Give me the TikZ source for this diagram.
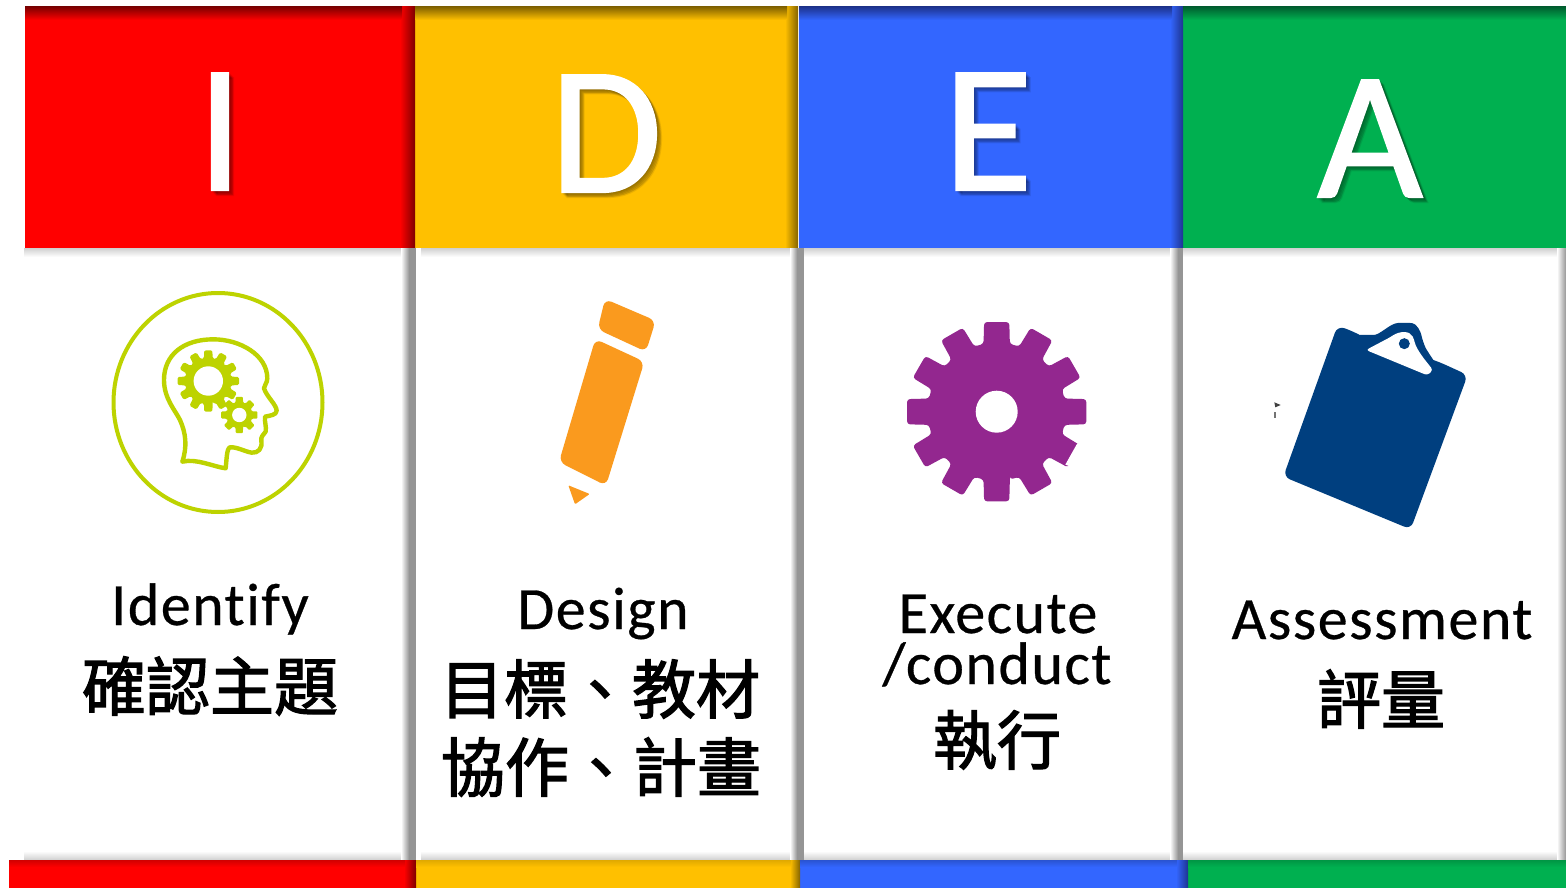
\documentclass[tikz,border=0pt]{standalone}
\usepackage{fontspec}
\setmainfont[LetterSpace=2.5,FakeBold=0.5,Ligatures=NoCommon]{Carlito}
\newfontfamily\bigf[FakeBold=1.2]{Carlito}
\newfontfamily\cjk[FakeBold=2]{Noto Sans CJK TC}
\definecolor{cred}{HTML}{FF0000}
\definecolor{cdred}{HTML}{7E0000}
\definecolor{camb}{HTML}{FFC000}
\definecolor{cdamb}{HTML}{846400}
\definecolor{cblu}{HTML}{3366FF}
\definecolor{cdblu}{HTML}{1E3490}
\definecolor{cgrn}{HTML}{00B050}
\definecolor{cdgrn}{HTML}{006030}
\definecolor{lime}{HTML}{BDD300}
\definecolor{penc}{HTML}{FA9A1E}
\definecolor{purp}{HTML}{93278F}
\definecolor{navy}{HTML}{003F7F}
\definecolor{shad}{HTML}{959595}
\definecolor{shadl}{HTML}{D0D0D0}
\tikzset{
  letter/.style={anchor=base,text=white,font=\bigf\fontsize{182}{182}\selectfont,inner sep=0pt},
  lettershadow/.style={anchor=base,text=black,text opacity=0.08,font=\bigf\fontsize{182}{182}\selectfont,inner sep=0pt},
  entext/.style={anchor=base,font=\fontsize{60}{60}\selectfont,inner sep=0pt},
  zhtext/.style={anchor=center,font=\cjk\fontsize{64}{64}\selectfont,inner sep=0pt},
  icon/.style={x=0.3333pt,y=-0.3333pt},
  hramp/.style n args={2}{left color=#1,right color=#2,middle color=#1!50!#2},
  vramp/.style n args={2}{top color=#1,bottom color=#2,middle color=#1!50!#2}
}
% gear: cx, cy, outer, root, teeth, half angle outer, half angle root, hole, colour
\newcommand{\geardraw}[9]{%
  \pgfmathsetmacro{\gstep}{360/#5}%
  \pgfmathsetmacro{\glast}{360-\gstep}%
  \pgfmathsetmacro{\gsec}{\gstep}%
  \fill[shift={(#1,#2)},#9] (90-#7:#4)
    \foreach \gi in {0,\gsec,...,\glast} {
      -- (90+\gi-#7:#4) -- (90+\gi-#6:#3) -- (90+\gi+#6:#3) -- (90+\gi+#7:#4)
    } -- cycle;
  \fill[white,shift={(#1,#2)}] (0,0) circle (#8);
}
\newcommand{\bigletter}[4]{%
  \foreach \sh in {1,2,3,4,5} {
    \node[lettershadow] (shadow#4\sh) at (#1+\sh,#2+\sh) {#3};
  }
  \node[letter] (letter#4) at (#1,#2) {#3};
}
\begin{document}
\begin{tikzpicture}[x=1pt,y=-1pt]
\useasboundingbox (0,0) rectangle (1566,888);
\fill[white] (0,0) rectangle (1566,888);
% header bars
\fill[cred] (25,7) rectangle (415,248);
\fill[camb] (415,7) rectangle (798,248);
\fill[cblu] (799,7) rectangle (1183,248);
\fill[cgrn] (1183,7) rectangle (1566,248);
% header right shadows
\shade[hramp={cred}{cdred}] (400,7) rectangle (415,248);
\shade[hramp={camb}{cdamb}] (785,7) rectangle (798,248);
\shade[hramp={cblu}{cdblu}] (1170,7) rectangle (1183,248);
% header top shadows
\shade[vramp={cdred}{cred}] (25,7) rectangle (402,20);
\shade[vramp={cdamb}{camb}] (415,7) rectangle (787,20);
\shade[vramp={cdblu}{cblu}] (799,7) rectangle (1172,20);
\shade[vramp={cdgrn}{cgrn}] (1183,7) rectangle (1566,20);
% body top shadow
\shade[top color=shadl,bottom color=white] (24,248) rectangle (1566,257);
% body bottom shadow
\shade[top color=white,bottom color=shadl] (24,851) rectangle (1566,860);
% body vertical shadows
\shade[hramp={white}{shad}] (401,248) rectangle (409,860);
\fill[shad] (409,248) rectangle (416,860);
\fill[white] (416,248) rectangle (421,860);
\shade[hramp={white}{shad}] (790,248) rectangle (797,860);
\fill[shad] (797,248) rectangle (804,860);
\shade[hramp={white}{shad}] (1170,248) rectangle (1178,860);
\fill[shad] (1178,248) rectangle (1183,860);
\shade[hramp={white}{shad}] (1557,248) rectangle (1566,860);
% footer bars
\fill[cred] (9,860) rectangle (416,888);
\fill[camb] (416,860) rectangle (800,888);
\fill[cblu] (800,860) rectangle (1188,888);
\fill[cgrn] (1188,860) rectangle (1566,888);
\shade[hramp={cred}{cdred}] (404,860) rectangle (416,888);
\shade[hramp={camb}{cdamb}] (790,860) rectangle (800,888);
\shade[hramp={cblu}{cdblu}] (1176,860) rectangle (1188,888);
\shade[top color=cred!82!black,bottom color=cred] (9,860) rectangle (405,867);
\shade[top color=camb!88!black,bottom color=camb] (416,860) rectangle (791,867);
\shade[top color=cblu!82!black,bottom color=cblu] (800,860) rectangle (1177,867);
\shade[top color=cgrn!85!black,bottom color=cgrn] (1188,860) rectangle (1566,867);
% header letters
\bigletter{220}{190}{I}{i}
\bigletter{606}{192}{D}{d}
\bigletter{988}{190}{E}{e}
\bigletter{1370}{197}{A}{a}
% head icon
\draw[lime,line width=4pt] (218,402.5) ellipse [x radius=104.5,y radius=109.5];
\begin{scope}[shift={(80,270)},icon]
\draw[lime,line width=4.4pt,line join=round]
  (307,575)
  .. controls (322,530) and (318,490) .. (300,450)
  .. controls (285,420) and (252,385) .. (252,330)
  .. controls (252,255) and (310,208) .. (400,208)
  .. controls (480,208) and (562,255) .. (562,325)
  .. controls (562,340) and (552,345) .. (552,355)
  .. controls (560,380) and (590,405) .. (590,422)
  .. controls (590,435) and (570,437) .. (555,440)
  .. controls (553,455) and (560,470) .. (557,485)
  .. controls (550,495) and (542,500) .. (544,512)
  .. controls (548,535) and (535,550) .. (515,548)
  .. controls (495,545) and (470,530) .. (450,532)
  .. controls (440,535) and (440,570) .. (437,595)
  .. controls (400,590) and (350,565) .. (307,575) -- cycle;
\end{scope}
\geardraw{208.3}{381}{31}{23}{12}{7.5}{11}{14.7}{lime,rounded corners=1.5pt}
\geardraw{239.3}{415}{18.5}{13}{8}{11}{17}{7.2}{lime,rounded corners=1pt}
% pencil icon
\begin{scope}[shift={(520,280)},icon]
\fill[penc,rounded corners=7pt] (255,57) -- (407,122) -- (378,215) -- (233,148) -- cycle;
\fill[penc,rounded corners=7pt] (226,177) -- (373,245) -- (258,617) -- (117,546) -- cycle;
\fill[penc,rounded corners=1pt] (145,616) -- (209,642) -- (165,673) -- cycle;
\end{scope}
% gear icon
\geardraw{996.7}{411.7}{90.5}{69}{12}{8}{11}{21}{purp,rounded corners=3pt}
\begin{scope}[shift={(880,300)},icon]
\fill[white] (592,430) -- (556,494) -- (600,510) -- (625,445) -- cycle;
\end{scope}
% clipboard icon
\begin{scope}[shift={(1250,300)},icon]
\fill[navy,rounded corners=7pt] (262,78)
  .. controls (300,90) and (330,105) .. (350,105)
  .. controls (390,105) and (420,70) .. (465,68)
  .. controls (500,70) and (512,95) .. (518,125)
  .. controls (530,150) and (550,180) .. (570,187)
  -- (653,225) -- (482,688) -- (100,530) -- cycle;
\fill[white,rounded corners=3pt] (348,150) -- (420,112) .. controls (450,92) and (480,92) .. (492,118)
  .. controls (500,150) and (525,180) .. (549,210) -- (532,226) -- cycle;
\fill[navy] (463,131) circle (5.5pt);
\fill[black!75] (73,307) -- (92,315) -- (76,322) -- cycle;
\fill[black!55] (73,337) rectangle (79,354);
\end{scope}
% labels
\node[entext] (t1a) at (210,625) {Identify};
\node[zhtext] (t1b) at (210,686) {確認主題};
\node[entext] (t2a) at (603,629) {Design};
\node[zhtext] (t2b) at (600,689) {目標、教材};
\node[zhtext] (t2c) at (601,767) {協作、計畫};
\node[entext] (t3a) at (998,633) {Execute};
\node[entext] (t3b) at (997,684) {/conduct};
\node[zhtext] (t3c) at (997,740) {執行};
\node[entext] (t4a) at (1382,639) {Assessment};
\node[zhtext] (t4b) at (1381,699) {評量};
\end{tikzpicture}
\end{document}
